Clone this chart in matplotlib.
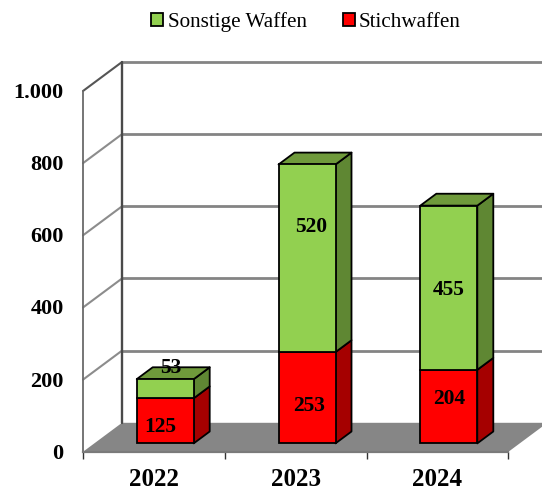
import matplotlib
matplotlib.use("Agg")
import matplotlib.pyplot as plt
from matplotlib.patches import Polygon
from matplotlib.transforms import ScaledTranslation

years = ["2022", "2023", "2024"]
stich = [125, 253, 204]
sonstige = [53, 520, 455]
yticks = [0, 200, 400, 600, 800, 1000]
ylabels = ["0", "200", "400", "600", "800", "1.000"]
names = ["Sonstige Waffen", "Stichwaffen"]

W, H = 542, 490
L, R, T, B = 83.0, 508.4, 91.0, 451.8
GREEN, GREEN_S, GREEN_T = "#92D050", "#5F8733", "#6F9A3B"
RED, RED_S = "#FF0000", "#A50000"
GRID = "#868686"
SERIF = "Liberation Serif"

fig = plt.figure(figsize=(W / 100, H / 100), dpi=100)
ax = fig.add_axes([L / W, 1 - B / H, (R - L) / W, (B - T) / H])
ax.set_xlim(0, 3)
ax.set_ylim(0, 1000)
ax.patch.set_visible(False)

DX = 39 / ((R - L) / 3)   # oblique depth in x units
DY = 29 / ((B - T) / 1000)  # oblique depth in y units


def pr(x, y, d=0.0):
    return (x + DX * d, y + DY * d)


def poly(pts, fc, ec="none", lw=0, z=1):
    ax.add_patch(Polygon(pts, closed=True, fc=fc, ec=ec, lw=lw, zorder=z,
                         clip_on=False, joinstyle="round"))


def line(p, q, c, lw, z=2):
    ax.plot([p[0], q[0]], [p[1], q[1]], color=c, lw=lw, zorder=z,
            clip_on=False, solid_capstyle="round")


# floor
poly([pr(0, 0), pr(0, 0, 1), pr(3, 0, 1), pr(3, 0)], GRID, z=1)
# grid on side and back walls
for v in yticks[1:]:
    line(pr(0, v), pr(0, v, 1), "#8c8c8c" if v < 1000 else "#555555", 1.5)
    line(pr(0, v, 1), pr(3, v, 1), "#848484", 2.0)
line(pr(0, 0), pr(0, 1000), "#6a6a6a", 1.3)
line(pr(0, 0, 1), pr(0, 1000, 1), "#4a4a4a", 1.7)

# bars
x = [i + 0.5 for i in range(len(years))]
bw = 57 / ((R - L) / 3)
d0, d1 = 0.29, 0.70
xf = [c + DX * d0 for c in x]
y0 = DY * d0
EC = dict(edgecolor="black", linewidth=1.3)
b_red = ax.bar(xf, stich, bw, bottom=y0, color=RED, zorder=5, clip_on=False, **EC)
b_grn = ax.bar(xf, sonstige, bw, bottom=[y0 + s for s in stich], color=GREEN,
               zorder=5, clip_on=False, **EC)
ddx, ddy = DX * (d1 - d0), DY * (d1 - d0)
for xc, s, o in zip(xf, stich, sonstige):
    xr = xc + bw / 2
    xl = xc - bw / 2
    a, b = y0 + s, y0 + s + o
    kw = dict(ec="black", lw=1.3, z=4)
    poly([(xr, y0), (xr + ddx, y0 + ddy), (xr + ddx, a + ddy), (xr, a)], RED_S, **kw)
    poly([(xr, a), (xr + ddx, a + ddy), (xr + ddx, b + ddy), (xr, b)], GREEN_S, **kw)
    poly([(xl, b), (xl + ddx, b + ddy), (xr + ddx, b + ddy), (xr, b)], GREEN_T, **kw)

# data labels: centred on the front face, with hand offsets in pixels
off_red = [(-5, -6), (2, -8), (0, 8)]
off_grn = [(6, 21), (4, 31), (0, -2)]
for i in range(3):
    for val, base, (ox, oy) in ((stich[i], y0, off_red[i]),
                                (sonstige[i], y0 + stich[i], off_grn[i])):
        ax.annotate(str(val), (xf[i], base + val / 2), xytext=(ox * .72, oy * .72),
                    textcoords="offset points", ha="center", va="center",
                    family=SERIF, weight="bold", fontsize=15.5, color="black",
                    zorder=8, annotation_clip=False)

# axes
for s in ("top", "right", "left"):
    ax.spines[s].set_visible(False)
ax.spines["bottom"].set_color("#7a7a7a")
ax.spines["bottom"].set_linewidth(1.6)
ax.spines["bottom"].set_zorder(3)
ax.set_yticks(yticks, ylabels)
ax.tick_params(axis="y", length=0, pad=14)
ax.set_xticks([0, 1, 2, 3])
ax.set_xticklabels([])
ax.tick_params(axis="x", which="major", length=5, width=1, color="#333333", direction="out")
ax.set_xticks(x, years, minor=True)
ax.tick_params(axis="x", which="minor", length=0, pad=12)
down = ScaledTranslation(0, -2 / 100, fig.dpi_scale_trans)
for t in ax.get_yticklabels():
    t.set(family=SERIF, weight="bold", fontsize=16, color="black", va="center")
    t.set_transform(t.get_transform() + down)
for t in ax.get_xticklabels(minor=True):
    t.set(family=SERIF, weight="bold", fontsize=18, color="black")

fig.legend([b_grn, b_red], names, ncol=2, frameon=False, loc="center",
           bbox_to_anchor=(306 / W, 1 - 22 / H), prop=dict(family=SERIF, size=15.2),
           handlelength=0.58, handleheight=0.58, handletextpad=0.2,
           columnspacing=1.7, borderpad=0)

fig.savefig("out.png", dpi=100)
